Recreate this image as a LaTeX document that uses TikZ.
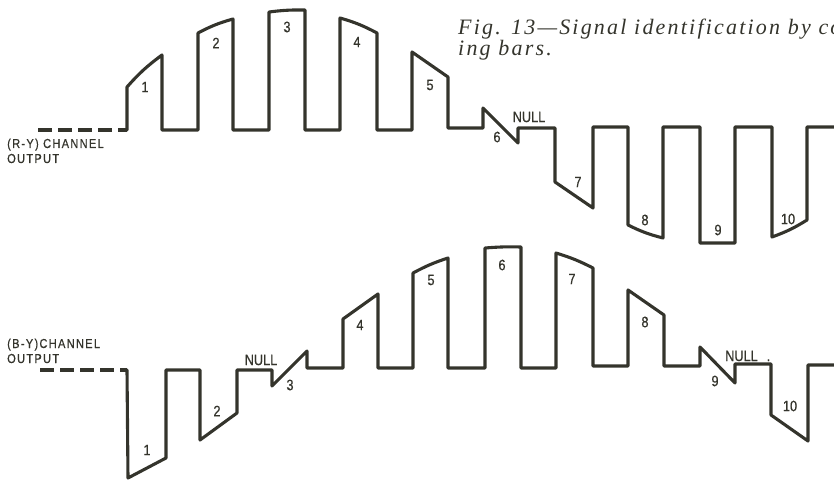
\documentclass[tikz,border=0pt]{standalone}
\usepackage{fontspec}
\setmainfont{Liberation Serif}
\newfontfamily\lblfont[FakeStretch=0.85,FakeBold=0.6]{Liberation Sans}
\newfontfamily\chanfont[FakeStretch=0.85,LetterSpace=10,FakeBold=0.6]{Liberation Sans}
\newfontfamily\capfont[LetterSpace=10]{Liberation Serif}
\definecolor{ink}{RGB}{52,52,44}
\begin{document}
\begin{tikzpicture}[x=1pt,y=-1pt,
  wave/.style={draw=ink,line width=3.1pt,line join=round,line cap=round},
  lead/.style={draw=ink,line width=3.1pt,dash pattern=on 14pt off 6pt},
  num/.style={text=ink,font=\lblfont\fontsize{15}{15}\selectfont,inner sep=0pt},
  chan/.style={text=ink,font=\chanfont\fontsize{13}{13}\selectfont,inner sep=0pt,anchor=base west},
  capt/.style={text=ink,font=\capfont\itshape\fontsize{22}{22}\selectfont,inner sep=0pt,anchor=base west}]
\useasboundingbox (0,0) rectangle (834,481);
% caption
\node[capt] (cap1) at (458,35) {Fig. 13—Signal identification by co};
\node[capt] (cap2) at (458,56) {ing bars.};
% channel labels
\node[chan] (ry1) at (7,148) {(R-Y) CHANNEL};
\node[chan] (ry2) at (7,163) {OUTPUT};
\node[chan] (by1) at (7,348) {(B-Y)CHANNEL};
\node[chan] (by2) at (7,363) {OUTPUT};
% top waveform
\draw[lead] (38,130) -- (127,130);
\draw[wave] (127,130) -- (127,87) to[bend left=6] (162,55) -- (162,130) -- (198,130)
  -- (198,33) to[bend left=6] (233,19) -- (233,130) -- (269,130)
  -- (269,12) to[bend left=4] (305,10) -- (305,130) -- (340,130)
  -- (340,18) to[bend left=6] (377,33) -- (377,130) -- (412,130)
  -- (412,52) -- (448,77) -- (448,128) -- (483,128)
  -- (483,108) -- (518,143) -- (518,128) -- (555,128)
  -- (555,182) -- (593,208) -- (593,127) -- (628,127)
  -- (628,225) to[bend right=6] (663,238) -- (663,127) -- (700,127)
  -- (700,243) -- (735,243) -- (735,127) -- (772,127)
  -- (772,237) to[bend right=6] (807,220) -- (807,127) -- (845,127);
% bottom waveform
\draw[lead] (40,370) -- (127,370);
\draw[wave] (127,370) -- (128,478) -- (166,458) -- (166,370) -- (200,370)
  -- (200,440) -- (237,413) -- (237,370) -- (272,370)
  -- (272,386) -- (307,351) -- (307,368) -- (343,368)
  -- (343,319) -- (378,294) -- (378,368) -- (413,368)
  -- (413,273) to[bend left=5] (448,258) -- (448,368) -- (485,368)
  -- (485,248) to[bend left=3] (521,247) -- (521,368) -- (556,368)
  -- (556,253) to[bend left=5] (593,268) -- (593,366) -- (628,366)
  -- (628,290) -- (664,315) -- (664,366) -- (700,366)
  -- (700,347) -- (735,383) -- (735,364) -- (771,364)
  -- (771,415) -- (808,441) -- (808,365) -- (845,365);
% top numbers
\node[num] (t1) at (145,87) {1};
\node[num] (t2) at (216,43) {2};
\node[num] (t3) at (287,27) {3};
\node[num] (t4) at (357,42) {4};
\node[num] (t5) at (430,85) {5};
\node[num] (t6) at (497,137) {6};
\node[num] (tnull) at (529,117) {NULL};
\node[num] (t7) at (578,182) {7};
\node[num] (t8) at (645,220) {8};
\node[num] (t9) at (718,230) {9};
\node[num] (t10) at (788,219) {10};
% bottom numbers
\node[num] (b1) at (147,450) {1};
\node[num] (b2) at (217,411) {2};
\node[num] (bnull) at (261,360) {NULL};
\node[num] (b3) at (290,385) {3};
\node[num] (b4) at (360,325) {4};
\node[num] (b5) at (431,280) {5};
\node[num] (b6) at (502,265) {6};
\node[num] (b7) at (572,279) {7};
\node[num] (b8) at (645,322) {8};
\node[num] (b9) at (715,381) {9};
\node[num,anchor=base west] (bnull2) at (725,361) {NULL\hspace{9pt}.};
\node[num] (b10) at (790,406) {10};
\end{tikzpicture}
\end{document}
